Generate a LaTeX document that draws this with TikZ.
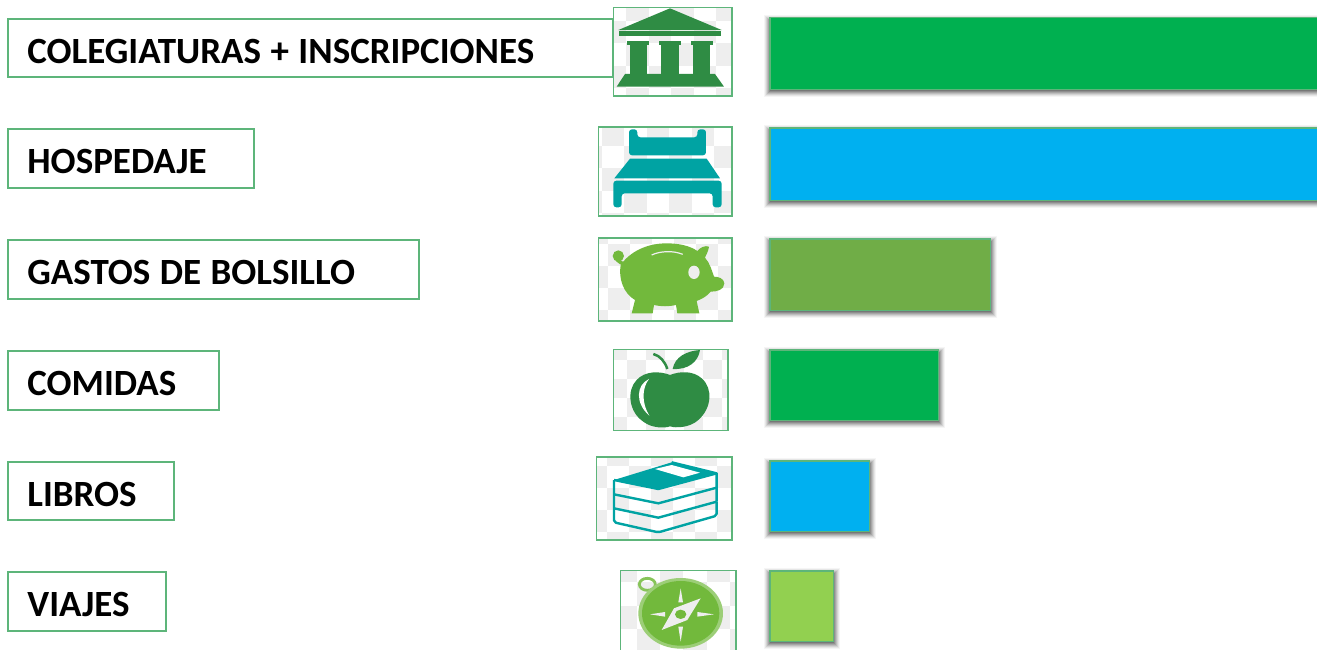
\documentclass[tikz,border=0pt]{standalone}
\usepackage{fontspec}
\setmainfont{Carlito}
\definecolor{edgegreen}{HTML}{5DB57A}
\definecolor{barG}{HTML}{00B050}
\definecolor{barB}{HTML}{00B0F0}
\definecolor{barO}{HTML}{70AD47}
\definecolor{barL}{HTML}{92D050}
\definecolor{darkG}{HTML}{2F8C44}
\definecolor{tealC}{HTML}{00A3A3}
\definecolor{lightG}{HTML}{72B93C}
\definecolor{checkC}{HTML}{EEEEEE}
\newcommand{\lab}[1]{\raisebox{-15.5pt}[0pt][0pt]{\spaceskip=9.5pt #1}}
\tikzset{
  labelbox/.style={draw=edgegreen,line width=1.8pt,fill=white,anchor=north west,inner xsep=19.5pt,inner ysep=0pt,align=left,font=\fontsize{37}{37}\selectfont\bfseries,text=black},
  iconbox/.style={draw=edgegreen,line width=1.8pt},
  barface/.style={draw=edgegreen,line width=1.8pt},
  zoomA/.style={shift={(590,0)},x=0.3333pt,y=-0.3333pt},
  zoomB/.style={shift={(590,225)},x=0.3333pt,y=-0.3333pt},
  zoomC/.style={shift={(590,445)},x=0.3333pt,y=-0.3333pt},
}
% x0 y0 x1 y1 colour
\newcommand{\pxbar}[5]{%
  \foreach \r/\o in {7/.04,6/.06,5/.08,4/.10,3/.12,2/.14,1/.16}{
    \fill[black,opacity=\o] (#1-\r+1,#2+4-\r) rectangle (#3+\r-1,#4+\r);
  }
  \filldraw[barface,fill=#5] (#1,#2) rectangle (#3,#4);
}
% x0 y0 x1 y1 cell originx originy
\newcommand{\checkers}[7]{%
  \fill[white] (#1,#2) rectangle (#3,#4);
  \begin{scope}
    \clip (#1,#2) rectangle (#3,#4);
    \foreach \i in {-6,...,6}{\foreach \j in {-5,...,5}{
      \pgfmathtruncatemacro{\k}{mod(abs(\i+\j),2)}
      \ifnum\k=0
        \fill[checkC] ({#6+\i*#5},{#7+\j*#5}) rectangle ++(#5,#5);
      \fi
    }}
  \end{scope}
  \draw[iconbox] (#1,#2) rectangle (#3,#4);
}
\begin{document}
\begin{tikzpicture}[x=1pt,y=-1pt]
\useasboundingbox (0,0) rectangle (1317,649);
\clip (0,0) rectangle (1317,649);
\fill[white] (0,0) rectangle (1317,649);

% labels
\node[labelbox,minimum width=605pt,minimum height=58pt,text width=566pt] (l1) at (7,18) {\lab{COLEGIATURAS + INSCRIPCIONES}};
\node[labelbox,minimum width=246pt,minimum height=59pt,text width=207pt] (l2) at (7,128) {\lab{HOSPEDAJE}};
\node[labelbox,minimum width=411pt,minimum height=59pt,text width=372pt] (l3) at (7,239) {\lab{GASTOS DE BOLSILLO}};
\node[labelbox,minimum width=211pt,minimum height=59pt,text width=172pt] (l4) at (7,350) {\lab{COMIDAS}};
\node[labelbox,minimum width=166pt,minimum height=58pt,text width=127pt] (l5) at (7,461) {\lab{LIBROS}};
\node[labelbox,minimum width=158pt,minimum height=59pt,text width=119pt] (l6) at (7,571) {\lab{VIAJES}};

% icon frames
\checkers{613.5}{7.5}{732}{96}{22.5}{626}{-2}
\checkers{598.5}{127}{732}{216}{22.5}{601.5}{123}
\checkers{598.5}{238}{732}{321}{22}{608}{288}
\checkers{613.5}{349.5}{728}{430.5}{19}{627}{360}
\checkers{596.5}{457}{732}{540}{22}{607}{488}
\checkers{620.5}{570.5}{736}{660}{23.3}{660}{559}

% temple
\begin{scope}[zoomA]
  \fill[darkG] (240,25) -- (85,90) -- (395,90) -- cycle;
  \fill[darkG] (88,94) rectangle (392,108);
  \foreach \a/\b in {112/178,207/273,302/368}{
    \fill[darkG] (\a,122) rectangle (\b,136);
    \fill[darkG] (\a+7,136) rectangle (\b-7,224);
  }
  \fill[darkG] (105,222) -- (375,222) -- (402,260) -- (80,260) -- cycle;
\end{scope}

% bed
\begin{scope}[zoomA]
  \fill[tealC,rounded corners=3pt] (117,466) -- (117,388) -- (142,388) -- (142,412) -- (322,412) -- (322,388) -- (348,388) -- (348,466) -- cycle;
  \fill[tealC] (120,476) -- (350,476) -- (390,535) -- (73,535) -- cycle;
  \fill[tealC,rounded corners=3pt] (70,542) -- (395,542) -- (395,622) -- (368,622) -- (368,580) -- (95,580) -- (95,622) -- (70,622) -- cycle;
\end{scope}

% piggy bank
\begin{scope}[zoomB]
  \draw[lightG,line width=3.5pt] (105,118) .. controls (85,112) and (75,100) .. (82,95);
  \fill[lightG] (85,93) circle [radius=17];
  \fill[lightG] (92,120) .. controls (120,80) and (170,55) .. (230,55)
    .. controls (265,55) and (300,62) .. (322,78)
    .. controls (330,68) and (345,60) .. (357,65)
    .. controls (355,80) and (348,90) .. (345,98)
    .. controls (360,115) and (365,135) .. (372,155)
    .. controls (385,155) and (402,160) .. (403,175)
    .. controls (403,195) and (380,200) .. (362,200)
    .. controls (350,215) and (335,222) .. (320,228)
    -- (328,265) -- (262,265) -- (258,240)
    .. controls (235,245) and (215,245) .. (192,240)
    -- (188,265) -- (125,265) -- (135,225)
    .. controls (100,205) and (85,160) .. (92,120) -- cycle;
  \fill[checkC] (312,142) ellipse [x radius=17,y radius=20];
  \draw[checkC,line width=1.2pt] (185,90) .. controls (210,78) and (250,76) .. (278,88);
\end{scope}

% apple
\begin{scope}[zoomB]
  \fill[darkG] (240,450) .. controls (210,438) and (165,437) .. (140,465)
    .. controls (110,495) and (115,560) .. (160,590)
    .. controls (185,610) and (225,610) .. (240,604)
    .. controls (258,610) and (300,608) .. (325,585)
    .. controls (365,550) and (370,490) .. (335,460)
    .. controls (310,437) and (270,438) .. (240,450) -- cycle;
  \fill[white] (177,462) .. controls (138,480) and (135,535) .. (178,572) .. controls (155,535) and (155,490) .. (177,462) -- cycle;
  \fill[darkG] (248,432) .. controls (255,395) and (290,378) .. (330,375) .. controls (325,410) and (295,435) .. (248,432) -- cycle;
  \draw[darkG,line width=2.5pt] (190,387) .. controls (210,392) and (225,410) .. (232,432);
\end{scope}

% books
\begin{scope}[zoomC,line join=round]
  \fill[tealC] (72,105) -- (245,52) -- (380,85) -- (205,132) -- cycle;
  \fill[white] (195,72) -- (245,60) -- (330,83) -- (280,97) -- cycle;
  \draw[tealC,line width=2.4pt] (245,52) -- (380,85) -- (380,170) ;
  \draw[tealC,line width=2.4pt,rounded corners=2pt] (72,105) -- (72,232) -- (205,262) -- (380,212) -- (380,170);
  \draw[tealC,line width=2.4pt] (72,105) -- (205,132) -- (380,85);
  \draw[tealC,line width=2.4pt] (72,148) -- (205,175) -- (380,128);
  \draw[tealC,line width=2.4pt] (72,190) -- (205,218) -- (380,170);
\end{scope}

% compass
\begin{scope}[zoomC]
  \draw[lightG!85!white,line width=2.8pt] (172,418) ellipse [x radius=24,y radius=18];
  \fill[lightG!70!white] (272,505) ellipse [x radius=127,y radius=106];
  \fill[lightG] (272,505) ellipse [x radius=116,y radius=97];
  \fill[checkC] (332,460) -- (292,525) -- (215,555) -- (252,490) -- cycle;
  \fill[lightG] (272,508) ellipse [x radius=17,y radius=14];
  \fill[checkC] (272,430) -- (279,472) -- (265,472) -- cycle;
  \fill[checkC] (272,590) -- (279,545) -- (265,545) -- cycle;
  \fill[checkC] (180,508) -- (225,501) -- (225,515) -- cycle;
  \fill[checkC] (372,508) -- (322,501) -- (322,515) -- cycle;
\end{scope}

% bars
\pxbar{770}{17.5}{1330}{89.5}{barG}
\pxbar{770}{128}{1330}{200.5}{barB}
\pxbar{770}{239}{990.5}{310.5}{barO}
\pxbar{770}{350}{938.5}{420.5}{barG}
\pxbar{770}{461}{869.5}{531.5}{barB}
\pxbar{770}{571}{833.5}{641.5}{barL}
\end{tikzpicture}
\end{document}
